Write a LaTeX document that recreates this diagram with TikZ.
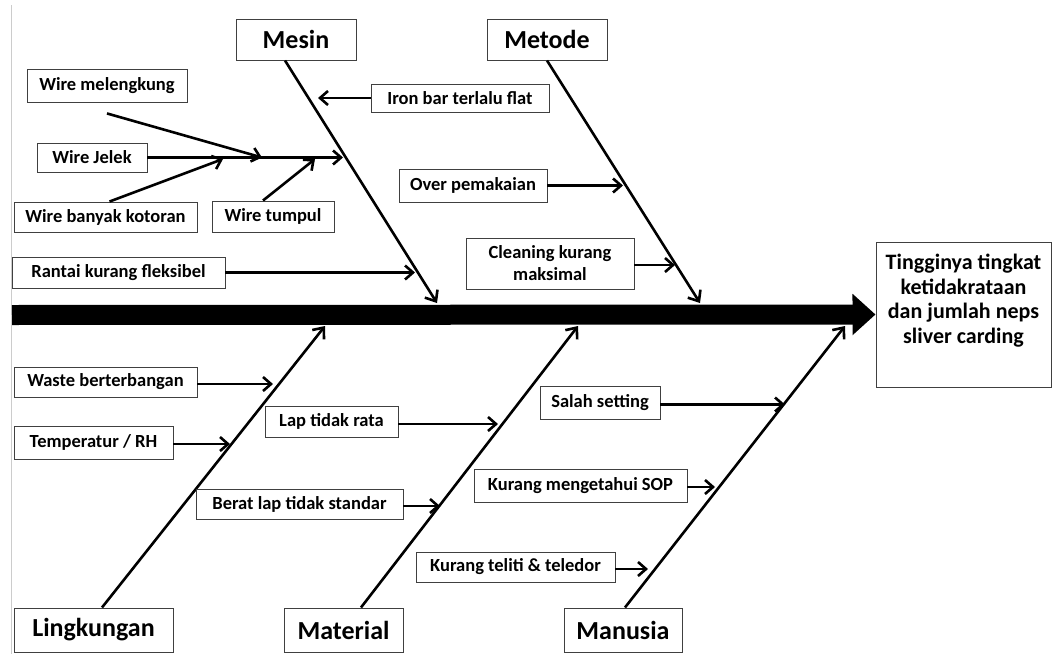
\documentclass[tikz,border=0pt]{standalone}
\usepackage{fontspec}
\setmainfont{Carlito}
\usetikzlibrary{arrows.meta}

\begin{document}
\begin{tikzpicture}[x=1pt, y=-1pt]
\tikzset{
    kategori/.style={rectangle, draw=black!75, line width=1pt, inner sep=0pt, text centered, font=\fontsize{26}{30}\selectfont\bfseries},
    sebab/.style={rectangle, draw=black!75, line width=0.9pt, inner sep=0pt, text centered, font=\fontsize{18.5}{22}\selectfont\bfseries},
    akibat/.style={rectangle, draw=black!75, line width=1pt, inner sep=0pt},
    akibat teks/.style={align=center, inner sep=0pt, yshift=14pt, font=\fontsize{22}{24.5}\selectfont\bfseries},
    bone/.style={line width=2.6pt, -{Straight Barb[length=9pt,width=15pt]}},
    edge/.style={line width=2.6pt, -{Straight Barb[length=8pt,width=14pt]}},
    spine/.style={line width=20pt, -{Triangle[length=23pt,width=40pt]}}
}
\useasboundingbox[fill=white] (0,0) rectangle (1053,656);
\draw[black!20, line width=1pt] (11,5) -- (11,654);

% Akibat dan tulang utama
\node[akibat, minimum width=175pt, minimum height=145pt,
    label={[akibat teks]center:{Tingginya tingkat\\ketidakrataan\\dan jumlah neps\\sliver carding}}] (E) at (963.5,314.5) {};
\coordinate (S0) at (12,315);
\draw[spine] (S0) -- (E.west);

% Kategori
\node[kategori, minimum width=120pt, minimum height=41pt] (K1) at (296,39.5) {Mesin};
\node[kategori, minimum width=120pt, minimum height=41pt] (K2) at (547,39.5) {Metode};
\node[kategori, minimum width=159pt, minimum height=44pt] (K3) at (93.5,630) {Lingkungan};
\node[kategori, minimum width=119pt, minimum height=44pt] (K4) at (343.5,630) {Material};
\node[kategori, minimum width=118pt, minimum height=44pt] (K5) at (623,630) {Manusia};

% Ujung tulang pada garis utama
\coordinate (T1) at (437,303);
\coordinate (T2) at (700,303);
\coordinate (T3) at (325,326);
\coordinate (T4) at (578,326);
\coordinate (T5) at (845,326);

\draw[bone] ([xshift=-11pt]K1.south) -- (T1);
\draw[bone] (K2.south) -- (T2);
\draw[bone] ([xshift=8.5pt]K3.north) -- (T3);
\draw[bone] ([xshift=17.5pt]K4.north) -- (T4);
\draw[bone] ([xshift=2pt]K5.north) -- (T5);

% Sebab - Mesin
\node[sebab, minimum width=160pt, minimum height=33pt] (S1) at (107,85.5) {Wire melengkung};
\node[sebab, minimum width=110pt, minimum height=29pt] (S2) at (92,157.5) {Wire Jelek};
\node[sebab, minimum width=183pt, minimum height=30pt] (S3) at (105.5,217) {Wire banyak kotoran};
\node[sebab, minimum width=122pt, minimum height=31pt] (S4) at (273,216.5) {Wire tumpul};
\node[sebab, minimum width=213pt, minimum height=31pt] (S5) at (118.5,272.5) {Rantai kurang fleksibel};
\node[sebab, minimum width=178pt, minimum height=28pt] (S6) at (460,98) {Iron bar terlalu flat};

% Sebab - Metode
\node[sebab, minimum width=148pt, minimum height=33pt] (S7) at (473,185.5) {Over pemakaian};
\node[sebab, minimum width=168pt, minimum height=51pt, align=center] (S8) at (550,263.5) {Cleaning kurang\\maksimal};

% Sebab - Lingkungan
\node[sebab, minimum width=183pt, minimum height=30pt] (S9) at (105.5,382) {Waste berterbangan};
\node[sebab, minimum width=159pt, minimum height=33pt] (S10) at (93.5,442.5) {Temperatur / RH};

% Sebab - Material
\node[sebab, minimum width=133pt, minimum height=31pt] (S11) at (331.5,421.5) {Lap tidak rata};
\node[sebab, minimum width=207pt, minimum height=30pt] (S12) at (299.5,504) {Berat lap tidak standar};

% Sebab - Manusia
\node[sebab, minimum width=120pt, minimum height=33pt] (S13) at (600,402.5) {Salah setting};
\node[sebab, minimum width=213pt, minimum height=33pt] (S14) at (580.5,485.5) {Kurang mengetahui SOP};
\node[sebab, minimum width=199pt, minimum height=30pt] (S15) at (515.5,567) {Kurang teliti \& teledor};

% Titik ujung panah sebab
\coordinate (A1) at (262,157.5);
\coordinate (A2) at (343,157.5);
\coordinate (A3) at (223,159);
\coordinate (A4) at (315,159);
\coordinate (A5) at (415,272.5);
\coordinate (A6) at (318,98);
\coordinate (A7) at (623,185.5);
\coordinate (A8) at (675,265);
\coordinate (A9) at (273,384);
\coordinate (A10) at (230,444);
\coordinate (A11) at (498,424);
\coordinate (A12) at (440,506);
\coordinate (A13) at (785,404.5);
\coordinate (A14) at (715,487);
\coordinate (A15) at (648,569);

% Panah sebab
\draw[edge] ([yshift=-11pt]S1.south) -- (A1);
\draw[edge] (S2.east) -- (A2);
\draw[edge] ([xshift=4pt]S3.north) -- (A3);
\draw[edge] ([xshift=-10pt]S4.north) -- (A4);
\draw[edge] (S5.east) -- (A5);
\draw[edge] (S6.west) -- (A6);
\draw[edge] (S7.east) -- (A7);
\draw[edge] (S8.east |- A8) -- (A8);
\draw[edge] (S9.east |- A9) -- (A9);
\draw[edge] (S10.east |- A10) -- (A10);
\draw[edge] (S11.east |- A11) -- (A11);
\draw[edge] (S12.east |- A12) -- (A12);
\draw[edge] (S13.east |- A13) -- (A13);
\draw[edge] (S14.east |- A14) -- (A14);
\draw[edge] (S15.east |- A15) -- (A15);
\end{tikzpicture}
\end{document}
